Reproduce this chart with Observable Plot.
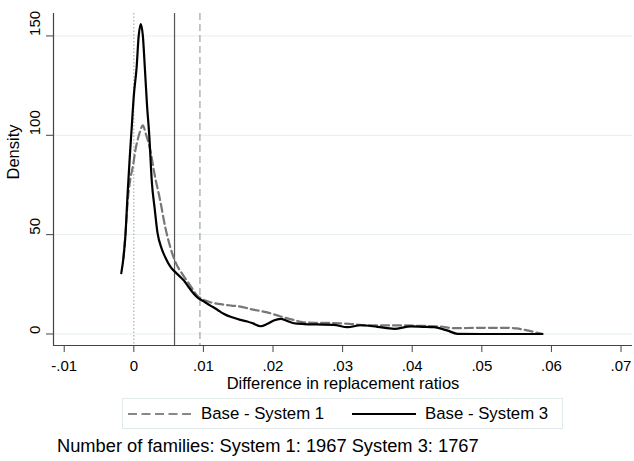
<!DOCTYPE html>
<html><head><meta charset="utf-8">
<script src="https://cdn.jsdelivr.net/npm/d3@7"></script>
<script src="https://cdn.jsdelivr.net/npm/@observablehq/plot@0.6"></script>
<style>
html,body{margin:0;padding:0;background:#fff;}
body{font-family:"Liberation Sans",Arial,sans-serif;color:#000;}
#wrap{position:relative;width:634px;height:461px;overflow:hidden;}
#chart{position:absolute;left:0;top:0;}
#legend{position:absolute;left:122px;top:398px;width:441px;height:31px;border:1px solid #e2eaec;box-sizing:border-box;font-size:16.8px;}
#legend .item{position:absolute;top:0;height:29px;display:flex;align-items:center;white-space:nowrap;}
#legend svg{display:block;margin-right:9px;}
#caption{position:absolute;left:57px;top:437px;font-size:18.3px;line-height:18px;white-space:nowrap;}
</style>
</head><body>
<div id="wrap"><div id="chart"></div><div id="legend"></div><div id="caption"></div></div>
<script>
// System 1 (Base - System 1), gray dashed density
const sys1X = [-0.0015,-0.0012,-0.0009,-0.0005,-0.0001,0.0002,0.0005,0.0009,0.0013,0.0017,0.0024,0.003,0.0038,0.0045,0.0053,0.006,0.007,0.008,0.0091,0.0096,0.011,0.0125,0.014,0.0153,0.0168,0.019,0.0211,0.0228,0.0244,0.0265,0.0287,0.031,0.0335,0.036,0.0383,0.041,0.044,0.046,0.048,0.05,0.0536,0.055,0.0565,0.0587];
const sys1Y = [38,50,66,78,85,92,97,102,105,101,92,80,67,54,43,36,30,25,19.4,18,16,15,14.3,13.8,12.5,11,8.8,7.2,5.9,5.6,5.5,5.1,4.3,4.3,4.3,4.1,3.8,2.9,3.0,3.1,3.1,2.8,1.8,0];
// System 3 (Base - System 3), black solid density
const sys3X = [-0.0018,-0.0015,-0.0012,-0.0009,-0.0006,-0.0003,0,0.0004,0.0007,0.001,0.0013,0.0016,0.0019,0.0022,0.0026,0.003,0.0034,0.004,0.0046,0.0053,0.006,0.0066,0.0072,0.008,0.0091,0.01,0.011,0.012,0.0129,0.014,0.0153,0.0163,0.0172,0.0182,0.0192,0.0201,0.0211,0.022,0.023,0.0245,0.0263,0.0287,0.0307,0.0326,0.035,0.0374,0.0398,0.0415,0.0431,0.045,0.0465,0.05,0.055,0.0587];
const sys3Y = [30.6,38,50,70,88,104,120,134,150,156,150,133,115,101,76,63,51,43,38,33.6,31,29,26.9,23,18.5,16.5,14.3,12.2,10.2,8.5,7.1,6.3,5.2,3.9,5.1,6.8,7.6,6.6,5.4,5,4.8,4.6,3.4,4.4,3.6,2.6,3.8,3.6,3.4,1.8,0.1,0,0,0];
// reference lines
const zeroLine = [0];
const meanSys3 = [0.00585];
const meanSys1 = [0.0095];
// axes
const xTicks = [-0.01,0,0.01,0.02,0.03,0.04,0.05,0.06,0.07];
const yTicks = [0,50,100,150];
const xDomain = [-0.01154,0.07165];
const yDomain = [-5.8,161.3];
const seriesNames = ["Base - System 1","Base - System 3"];
const captionText = "Number of families: System 1: 1967 System 3: 1767";
const xTitle = "Difference in replacement ratios";
const yTitle = "Density";

const sys1 = sys1X.map((x,i)=>({x, y: sys1Y[i]}));
const sys3 = sys3X.map((x,i)=>({x, y: sys3Y[i]}));
const fmt = d => d === 0 ? "0" : d3.format(".2f")(d).replace("\u2212","-").replace("0.", ".");
const FONT = "'Liberation Sans', Arial, sans-serif";

const chart = Plot.plot({
  width: 634, height: 392,
  marginLeft: 53, marginRight: 2, marginTop: 13, marginBottom: 47,
  style: {fontFamily: FONT, fontSize: "15px", color: "#000", background: "#fff", overflow: "visible"},
  x: {domain: xDomain},
  y: {domain: yDomain},
  marks: [
    Plot.gridY(yTicks, {stroke: "#e4edef", strokeOpacity: 1, strokeWidth: 1}),
    Plot.ruleX(zeroLine, {stroke: "#a0a0a0", strokeDasharray: "1.5,2", strokeWidth: 1}),
    Plot.ruleX(meanSys3, {stroke: "#555", strokeWidth: 1.2}),
    Plot.ruleX(meanSys1, {stroke: "#a0a0a0", strokeDasharray: "7,4", strokeWidth: 1.2}),
    Plot.line(sys1, {x: "x", y: "y", stroke: "#777", strokeWidth: 2.2, strokeDasharray: "8,4", curve: "monotone-x"}),
    Plot.line(sys3, {x: "x", y: "y", stroke: "#000", strokeWidth: 2.2, curve: "monotone-x"}),
    Plot.ruleX([xDomain[0]], {stroke: "#444", strokeWidth: 1.2}),
    Plot.ruleY([yDomain[0]], {stroke: "#444", strokeWidth: 1.2}),
    // tick marks
    Plot.axisX({ticks: xTicks, tickSize: 7, text: null, label: null, stroke: "#444"}),
    Plot.axisY({ticks: yTicks, tickSize: 7, text: null, label: null, stroke: "#444"}),
    // tick labels
    Plot.text(xTicks, {x: d => d, text: fmt, frameAnchor: "bottom", lineAnchor: "bottom", dy: 25, fontSize: 15, fill: "#000", fontFamily: FONT}),
    Plot.text(yTicks, {y: d => d, text: d => String(d), frameAnchor: "left", lineAnchor: "bottom", rotate: -90, dx: -13.5, fontSize: 15, fill: "#000", fontFamily: FONT}),
    // axis titles
    Plot.text([xTitle], {frameAnchor: "bottom", lineAnchor: "bottom", dy: 43.5, fontSize: 16.5, fill: "#000", fontFamily: FONT}),
    Plot.text([yTitle], {frameAnchor: "left", lineAnchor: "bottom", rotate: -90, dx: -35, fontSize: 16.5, fill: "#000", fontFamily: FONT})
  ]
});
document.getElementById("chart").appendChild(chart);

// legend
const legend = document.getElementById("legend");
const items = [
  {name: seriesNames[0], left: 5, stroke: "#888", dash: "9,4.5"},
  {name: seriesNames[1], left: 229, stroke: "#000", dash: null}
];
for (const it of items) {
  const div = document.createElement("div");
  div.className = "item";
  div.style.left = it.left + "px";
  const ns = "http://www.w3.org/2000/svg";
  const s = document.createElementNS(ns, "svg");
  s.setAttribute("width", 64); s.setAttribute("height", 6);
  const l = document.createElementNS(ns, "line");
  l.setAttribute("x1", 0); l.setAttribute("x2", 64); l.setAttribute("y1", 3); l.setAttribute("y2", 3);
  l.setAttribute("stroke", it.stroke); l.setAttribute("stroke-width", 2);
  if (it.dash) l.setAttribute("stroke-dasharray", it.dash);
  s.appendChild(l);
  div.appendChild(s);
  const t = document.createElement("span");
  t.textContent = it.name;
  div.appendChild(t);
  legend.appendChild(div);
}
document.getElementById("caption").textContent = captionText;
</script>
</body></html>
